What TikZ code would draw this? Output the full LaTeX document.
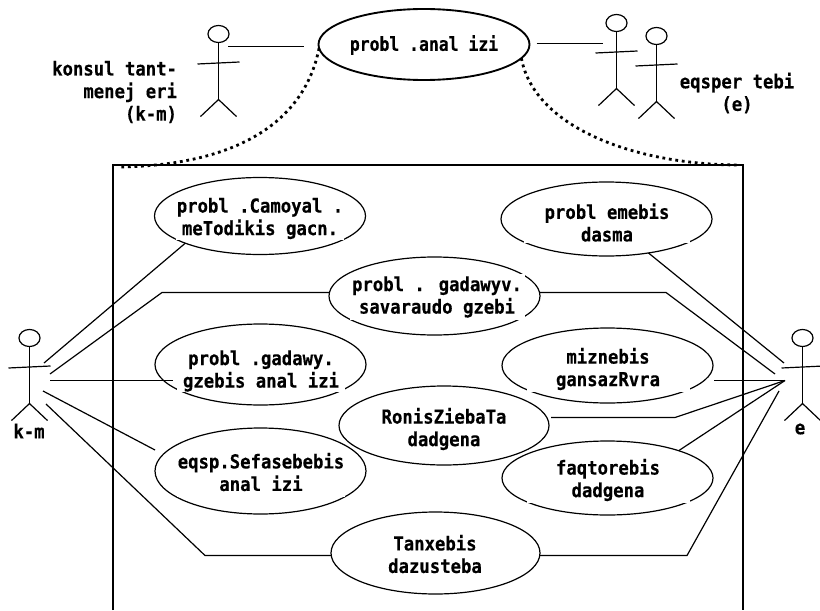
\documentclass[tikz,border=0pt]{standalone}
\usepackage{fontspec}
\usepackage{graphicx}
\setmainfont{DejaVu Sans Mono}[BoldFeatures={FakeStretch=0.9,FakeBold=0.4}]
\usetikzlibrary{shapes.geometric,calc}
\tikzset{
  x=0.75pt,y=-0.75pt,
  ln/.style={line width=0.9pt,black},
  frameln/.style={line width=1.05pt,black},
  ucase/.style={ellipse,draw,line width=0.9pt,fill=white,inner sep=0pt,outer sep=0pt},
  mainuc/.style={ucase,line width=1.4pt},
  lab/.style={font=\fontsize{14.4}{16.9}\selectfont\bfseries,align=center,inner sep=0pt,outer sep=0pt},
  boxlab/.style={lab,fill=white},
  headshape/.style={ellipse,draw,line width=0.9pt,inner sep=0pt,outer sep=0pt,minimum width=15.8pt,minimum height=12.8pt},
  dots/.style={line width=2.1pt,dash pattern=on 2.1pt off 2.8pt}
}
\newcommand{\ucell}[6][ucase]{\node[#1,minimum width=#5*0.75pt,minimum height=#6*0.75pt] (#2) at (#3,#4) {};}
\newcommand{\ulab}[6]{\node[boxlab,minimum width=#4*0.75pt,minimum height=#5*0.75pt] (#1) at (#2,#3) {#6};}
\newcommand{\stick}[3]{%
  \node[headshape] (#1) at (#2,#3) {};
  \draw[ln] (#1.south) -- ++(0,57) coordinate (#1hip);
  \draw[ln] ($(#1.center)+(-21,30)$) -- ($(#1.center)+(21,28)$);
  \draw[ln] ($(#1hip)+(-18,17)$) -- (#1hip) -- ($(#1hip)+(18,17)$);
}
\begin{document}
\begin{tikzpicture}
\useasboundingbox (0,0) rectangle (820,610);
% system boundary
\coordinate (bl) at (113,610); \coordinate (tl) at (113,165);
\coordinate (tr) at (743,165); \coordinate (br) at (743,610);
\draw[frameln] (bl) -- (tl) -- (tr) -- (br);
% actors
\stick{mgr}{218.5}{34}
\stick{expa}{616.5}{23}
\stick{expb}{656.5}{36}
\stick{km}{29.5}{338}
\stick{ex}{802.5}{338}
% main use case
\ucell[mainuc]{top}{424}{44.5}{211}{71}
\node[lab] (toplab) at (424,45) {\scalebox{0.95}[1]{probl .anal izi}};
% ellipses
\ucell{ea}{260}{216}{211}{77}
\ucell{eb}{606.5}{219}{211}{74}
\ucell{ec}{434.5}{296}{211}{78}
\ucell{ed}{260.5}{364.5}{211}{81}
\ucell{ee}{607.5}{365.5}{211}{75}
\ucell{ef}{444}{425.5}{210}{79}
\ucell{eg}{260.5}{471}{211}{86}
\ucell{eh}{607.5}{478}{211}{74}
\ucell{ei}{435.5}{553}{209}{82}
% ports
\coordinate (mgrp) at (228,46.5);
\coordinate (expp) at (603,43.5);
\coordinate (k1) at (44,363); \coordinate (k2) at (50,374); \coordinate (k3) at (50,380.5);
\coordinate (k4) at (43,391); \coordinate (k5) at (46,404);
\coordinate (x1) at (784,363); \coordinate (x2) at (775,374); \coordinate (x3) at (785,380.5);
\coordinate (x6) at (779,391);
\coordinate (bk2) at (162,292.5); \coordinate (bk5) at (205,555.5);
\coordinate (bx2) at (666,292.5); \coordinate (bx4) at (675,417.5); \coordinate (bx6) at (687,555.5);
\coordinate (topw) at ($(top.west)+(-15,0)$);
\coordinate (tope) at ($(top.east)+(7,0)$);
\coordinate (edin) at ($(ed.west)+(18,0)$);
\coordinate (eeout) at ($(ee.east)+(1,0)$);
\coordinate (efout) at ($(ef.east)+(2,0)$);
% connectors
\draw[ln] (mgrp) -- (mgrp -| topw);
\draw[ln] (expp -| tope) -- (expp);
\draw[ln] (k1) -- (ea.200);
\draw[ln] (k2) -- (bk2) -- (bk2 -| ec.west);
\draw[ln] (k3) -- (k3 -| edin);
\draw[ln] (k4) -- ($(eg.west)+(0,-21)$);
\draw[ln] (k5) -- (bk5) -- (bk5 -| ei.west);
\draw[ln] (eb.321) -- (x1);
\draw[ln] (bx2 -| ec.east) -- (bx2) -- (x2);
\draw[ln] (x3 -| eeout) -- (x3);
\draw[ln] (bx4 -| efout) -- (bx4) -- (x3);
\draw[ln] (eh.21) -- (x3);
\draw[ln] (bx6 -| ei.east) -- (bx6) -- (x6);
% dotted curves
\draw[dots] (top.182) .. controls (305,120) and (240,165) .. ($(tl)+(7,2)$);
\draw[dots] (top.352) .. controls (535,130) and (640,165) .. ($(tr)+(-3,0)$);
% labels
\ulab{la}{260}{218.5}{168}{43}{probl .Camoyal .\\meTodikis gacn.}
\ulab{lb}{607}{222.5}{166}{41}{probl emebis\\dasma}
\ulab{lc}{437}{297}{175}{46}{probl . gadawyv.\\savaraudo gzebi}
\ulab{ld}{261}{371}{168}{40}{probl .gadawy.\\gzebis anal izi}
\ulab{le}{608}{369}{163}{46}{miznebis\\gansazRvra}
\ulab{lf}{444}{429}{132}{44}{RonisZiebaTa\\dadgena}
\ulab{lg}{261}{472}{168}{50}{eqsp.Sefasebebis\\anal izi}
\ulab{lh}{608}{480}{163}{46}{faqtorebis\\dadgena}
\ulab{li}{435}{554}{120}{44}{Tanxebis\\dazusteba}
\node[lab,align=right,anchor=east] (mgrlab) at (177,92) {konsul tant-\\menej eri\\(k-m)};
\node[lab] (explab) at (737,93) {eqsper tebi\\(e)};
\node[lab] (kmlab) at (29,431) {k-m};
\node[lab] (exlab) at (800,429) {e};
\end{tikzpicture}
\end{document}
